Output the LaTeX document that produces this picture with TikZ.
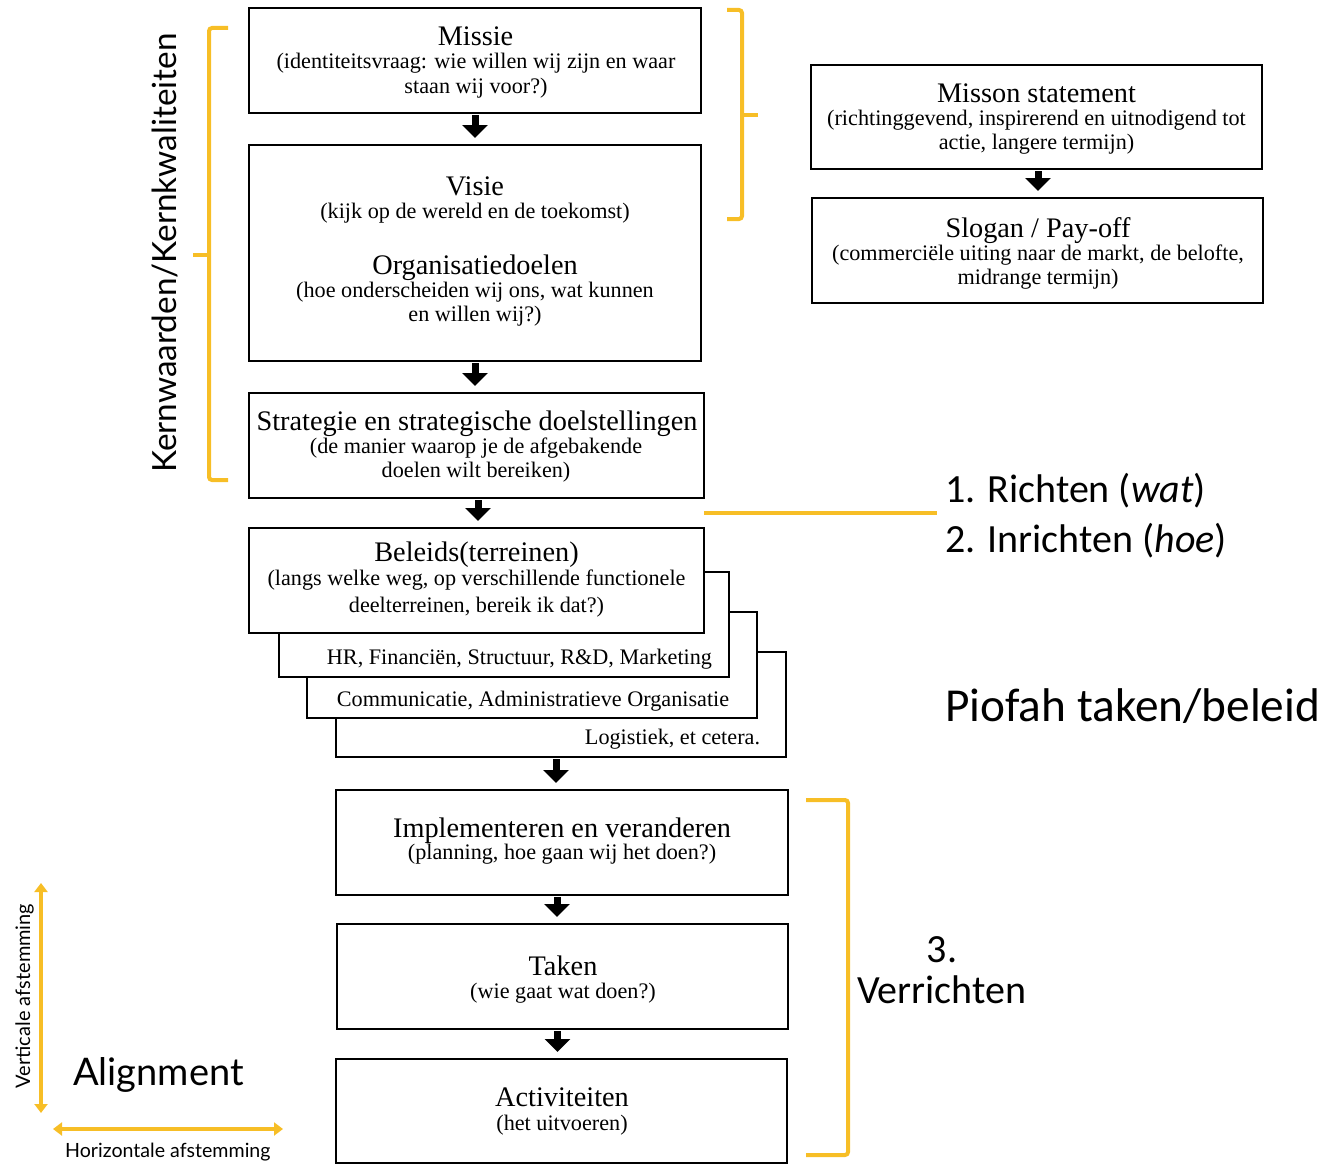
\documentclass[tikz,border=0pt]{standalone}
\usepackage{fontspec}
\setmainfont{Liberation Serif}
\newfontfamily\carl{Carlito}
\newfontfamily\latof{Lato}
\usetikzlibrary{arrows.meta}
\definecolor{ybr}{RGB}{247,190,38}
\begin{document}
\begin{tikzpicture}[x=1pt,y=-1pt,
  box/.style={draw, line width=2pt, fill=white, inner sep=0pt},
  ttl/.style={anchor=base, inner sep=0pt, font=\fontsize{28.3}{30}\selectfont},
  sub/.style={anchor=base, inner sep=0pt, font=\fontsize{22.2}{24}\selectfont},
  flow/.style={line width=7pt, -{Triangle[width=25pt,length=13pt]}, shorten <=1pt, shorten >=6pt},
  ybrk/.style={draw=ybr, line width=4pt, rounded corners=3pt},
  yarr/.style={draw=ybr, line width=4pt, {Triangle[width=13pt,length=9pt]}-{Triangle[width=13pt,length=9pt]}},
  big/.style={inner sep=0pt, font=\carl\fontsize{40}{44}\selectfont},
  lat/.style={inner sep=0pt, font=\latof\fontsize{#1}{#1}\selectfont}
]
\useasboundingbox (0,0) rectangle (1327,1164);

% ---- boxes
\node[box, minimum width=452pt, minimum height=105pt] (missie) at (475,60.5) {};
\node[box, minimum width=452pt, minimum height=216pt] (visie) at (475,253) {};
\node[box, minimum width=455pt, minimum height=105pt] (strat) at (476.5,445.5) {};
\node[box, minimum width=450pt, minimum height=105pt] (pol4) at (561,704.5) {};
\node[box, minimum width=450pt, minimum height=106pt] (pol3) at (532,665) {};
\node[box, minimum width=450pt, minimum height=105pt] (pol2) at (504,624.5) {};
\node[box, minimum width=455pt, minimum height=105pt] (beleid) at (476.5,580.5) {};
\node[box, minimum width=452pt, minimum height=105pt] (impl) at (562,842.5) {};
\node[box, minimum width=451pt, minimum height=105pt] (taken) at (562.5,976.5) {};
\node[box, minimum width=451pt, minimum height=104pt] (activ) at (561.5,1111) {};
\node[box, minimum width=451pt, minimum height=104pt] (misson) at (1036.5,117) {};
\node[box, minimum width=451pt, minimum height=105pt] (slogan) at (1037.5,250.5) {};

% ---- box texts
\node[ttl] (t1) at (475.5,46) {Missie};
\node[sub] (t1a) at (476,69) {(identiteitsvraag: wie willen wij zijn en waar};
\node[sub] (t1b) at (476,93) {staan wij voor?)};

\node[ttl] (t2) at (475,195) {Visie};
\node[sub] (t2a) at (475,218) {(kijk op de wereld en de toekomst)};
\node[ttl] (t3) at (475,274) {Organisatiedoelen};
\node[sub] (t3a) at (475,297) {(hoe onderscheiden wij ons, wat kunnen};
\node[sub] (t3b) at (475,321) {en willen wij?)};

\node[ttl] (t4) at (477,430) {Strategie en strategische doelstellingen};
\node[sub] (t4a) at (476,453) {(de manier waarop je de afgebakende};
\node[sub] (t4b) at (476,477) {doelen wilt bereiken)};

\node[ttl] (t5) at (476.5,561) {Beleids(terreinen)};
\node[sub] (t5a) at (476.5,585) {(langs welke weg, op verschillende functionele};
\node[sub] (t5b) at (476.5,612) {deelterreinen, bereik ik dat?)};

\node[sub] (s2) at (519.5,664) {HR, Financiën, Structuur, R\&D, Marketing};
\node[sub] (s3) at (533,706) {Communicatie, Administratieve Organisatie};
\node[sub] (s4) at (672.5,744) {Logistiek, et cetera.};

\node[ttl] (t6) at (562,837) {Implementeren en veranderen};
\node[sub] (t6a) at (562,859) {(planning, hoe gaan wij het doen?)};
\node[ttl] (t7) at (563,975) {Taken};
\node[sub] (t7a) at (563,998) {(wie gaat wat doen?)};
\node[ttl] (t8) at (562,1106) {Activiteiten};
\node[sub] (t8a) at (562,1130) {(het uitvoeren)};

\node[ttl] (t9) at (1036.5,102) {Misson statement};
\node[sub] (t9a) at (1036.5,125) {(richtinggevend, inspirerend en uitnodigend tot};
\node[sub] (t9b) at (1036.5,149) {actie, langere termijn)};
\node[ttl] (t10) at (1038,237) {Slogan / Pay-off};
\node[sub] (t10a) at (1038,260) {(commerciële uiting naar de markt, de belofte,};
\node[sub] (t10b) at (1038,284) {midrange termijn)};

% ---- arrows
\draw[flow] (missie.south) -- (missie.south |- visie.north);
\draw[flow] (visie.south) -- (visie.south |- strat.north);
\draw[flow] ([xshift=1.5pt]strat.south) -- ([xshift=1.5pt]strat.south |- beleid.north);
\draw[flow] ([xshift=-5pt]pol4.south) -- ([xshift=-5pt]pol4.south |- impl.north);
\draw[flow] ([xshift=-5pt]impl.south) -- ([xshift=-5pt]impl.south |- taken.north);
\draw[flow] ([xshift=-5pt]taken.south) -- ([xshift=-5pt]taken.south |- activ.north);
\draw[flow] ([xshift=1.5pt]misson.south) -- ([xshift=1.5pt]misson.south |- slogan.north);

% ---- yellow brackets and lines
\draw[ybrk] (228,28) -- (209,28) -- (209,480) -- (228,480);
\draw[ybrk] (209,255) -- (193,255);
\draw[ybrk] (727,10) -- (742,10) -- (742,219) -- (727,219);
\draw[ybrk] (742,115) -- (758,115);
\draw[ybrk] (806,800) -- (848,800) -- (848,1155) -- (806,1155);
\coordinate (ylA) at (704,513);
\coordinate (ylB) at (937,513);
\draw[ybrk] (ylA) -- (ylB);

% ---- right labels
\node[big, anchor=base west] (richten) at (945,502) {1. Richten (\textit{wat})};
\node[big, anchor=base west] (inrichten) at (945,552) {2. Inrichten (\textit{hoe})};
\node[inner sep=0pt, anchor=base west, font=\carl\fontsize{47.3}{50}\selectfont] (piofah) at (945,721) {Piofah taken/beleid};
\node[big, anchor=base, font=\carl\fontsize{40}{42}\selectfont] (drie) at (942,962) {3.};
\node[big, anchor=base west, font=\carl\fontsize{40}{42}\selectfont] (verr) at (857,1003) {Verrichten};

% ---- left labels
\node[lat=33.3, anchor=base, rotate=90] (kern) at (176,253) {Kernwaarden/Kernkwaliteiten};
\node[lat=38, anchor=base west] (align) at (73,1085) {Alignment};
\node[lat=20, anchor=base, rotate=90] (vert) at (30,996) {Verticale afstemming};
\node[lat=19.6, anchor=base west] (hor) at (65,1157) {Horizontale afstemming};

\coordinate (vtop) at (41,883);
\coordinate (vbot) at (41,1113);
\draw[yarr] (vtop) -- (vbot);
\coordinate (hl) at (53,1129);
\coordinate (hr) at (283,1129);
\draw[yarr] (hl) -- (hr);
\end{tikzpicture}
\end{document}
